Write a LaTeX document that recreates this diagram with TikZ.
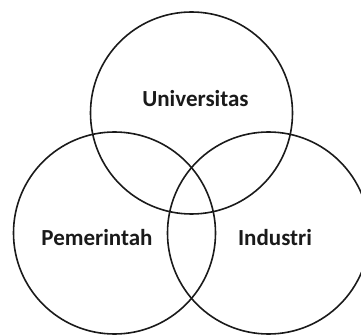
\documentclass[tikz,border=0pt]{standalone}
\usepackage{fontspec}
\setsansfont{Carlito}
\usepackage{xcolor}
\usepackage{tikz}
\usetikzlibrary{positioning}
\definecolor{ink}{HTML}{1A1A1A}
\tikzset{
    every picture/.style={line cap=round,line join=round},
    ring/.style={draw=ink,circle,line width=1.6pt,minimum size=202pt,
      inner sep=0pt,outer sep=0pt},
    sector/.style={text=ink,inner sep=0pt,anchor=base,
      font=\sffamily\bfseries\fontsize{23}{27}\selectfont}
}
\begin{document}
\begin{tikzpicture}[x=1pt,y=-1pt]
  \useasboundingbox (0,0) rectangle (361,336);
  \clip (0,0) rectangle (361,336);
  \node[ring] (univ) at (191.5,113) {};
  \node[ring] (pem) at (114.5,233) {};
  \node[ring] (ind) at (268.5,233) {};
  \node[sector] (univtext) at (195.5,107) {Universitas};
  \node[sector] (pemtext) at (97,246) {Pemerintah};
  \node[sector] (indtext) at (275,246) {Industri};
\end{tikzpicture}
\end{document}
